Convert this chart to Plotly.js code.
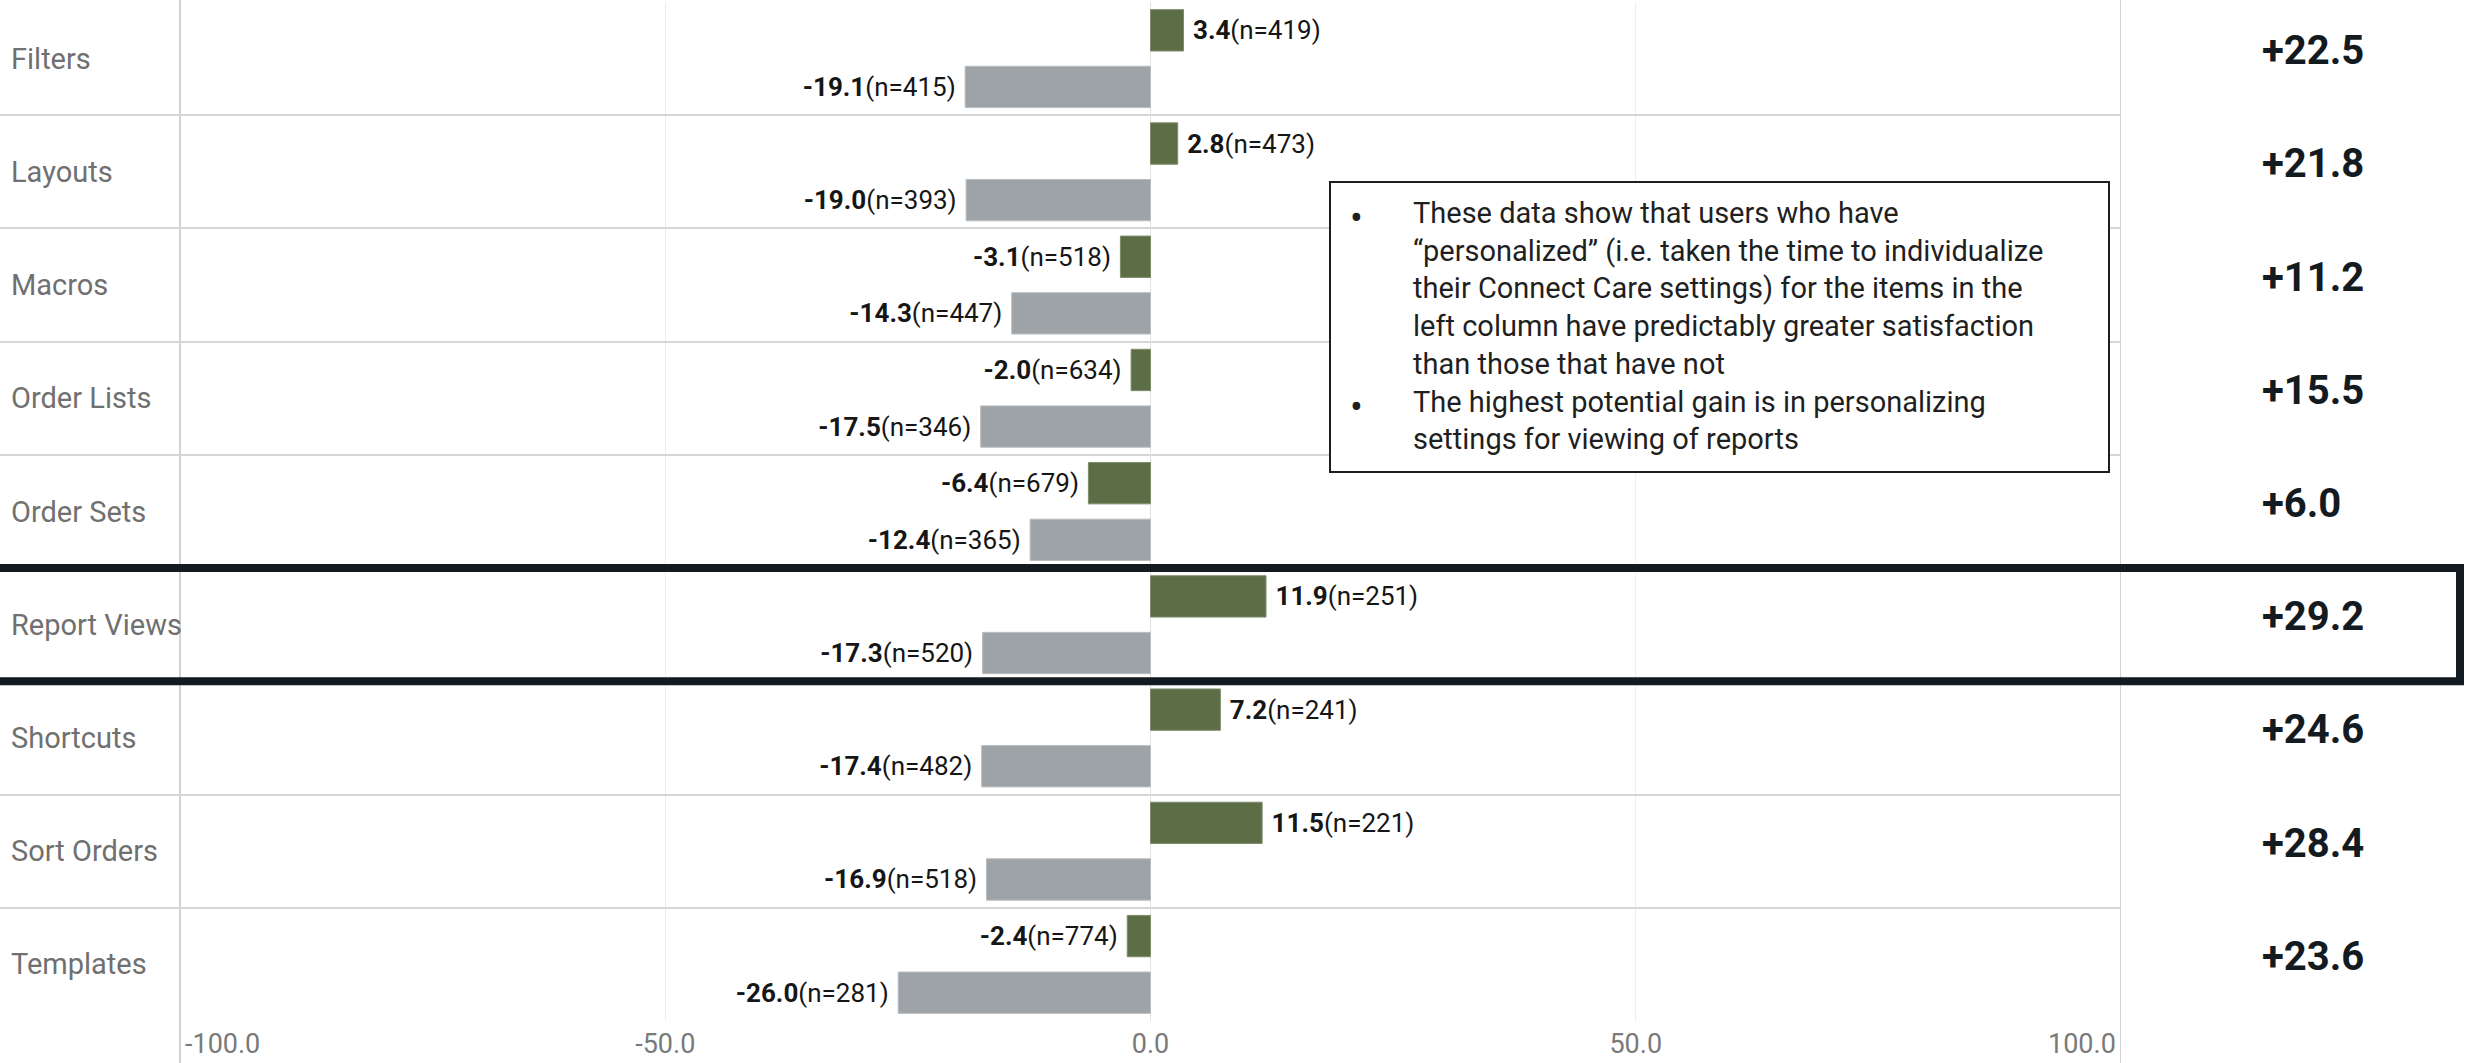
<!DOCTYPE html>
<html><head><meta charset="utf-8">
<script src="https://cdn.plot.ly/plotly-3.0.1.min.js"></script>
<style>html,body{margin:0;padding:0;background:#fff;overflow:hidden}#chart{width:2466px;height:1063px}</style>
</head><body><div id="chart"></div>
<script>
// ---- data ----
const categories = ['Filters','Layouts','Macros','Order Lists','Order Sets','Report Views','Shortcuts','Sort Orders','Templates'];
const personalized = [3.4, 2.8, -3.1, -2.0, -6.4, 11.9, 7.2, 11.5, -2.4];
const personalizedN = [419, 473, 518, 634, 679, 251, 241, 221, 774];
const notPersonalized = [-19.1, -19.0, -14.3, -17.5, -12.4, -17.3, -17.4, -16.9, -26.0];
const notPersonalizedN = [415, 393, 447, 346, 365, 520, 482, 518, 281];
const gainLabels = ['+22.5','+21.8','+11.2','+15.5','+6.0','+29.2','+24.6','+28.4','+23.6'];
const xTickVals = [-100, -50, 0, 50, 100];
const highlighted = 'Report Views';
const noteLines = [
  'These data show that users who have',
  '\u201Cpersonalized\u201D (i.e. taken the time to individualize',
  'their Connect Care settings) for the items in the',
  'left column have predictably greater satisfaction',
  'than those that have not',
  'The highest potential gain is in personalizing',
  'settings for viewing of reports'
];
const noteBullets = [true, false, false, false, false, true, false];

// ---- layout geometry ----
const W = 2466, H = 1063;
const margin = {l: 0, r: 345, t: 2, b: 42};
const plotW = W - margin.l - margin.r;
const plotH = H - margin.t - margin.b;
const px2x = px => (px - margin.l) / plotW;
const px2y = py => 1 - (py - margin.t) / plotH;

const FONT = 'Roboto, "Open Sans", sans-serif';
const GREEN = '#5c6e45', GRAY = '#9ea3a8', DARK = '#131b21';

function lab(v, n) {
  const s = '<b>' + v.toFixed(1) + '</b>(n=' + n + ')';
  return v >= 0 ? '\u00A0' + s : s + '\u00A0';
}

const common = {
  type: 'bar', orientation: 'h', y: categories,
  textposition: 'outside', cliponaxis: false, constraintext: 'none',
  textfont: {family: FONT, size: 26, color: '#161616'},
  hoverinfo: 'skip'
};
const traces = [
  Object.assign({}, common, {
    name: 'Personalized', x: personalized,
    text: personalized.map((v, i) => lab(v, personalizedN[i])),
    marker: {color: GREEN, line: {color: '#7d8c6a', width: 1}}
  }),
  Object.assign({}, common, {
    name: 'Not personalized', x: notPersonalized,
    text: notPersonalized.map((v, i) => lab(v, notPersonalizedN[i])),
    marker: {color: GRAY, line: {color: '#b9bdc1', width: 1}}
  })
];

const annotations = [];
// row labels (left aligned)
categories.forEach(c => annotations.push({
  xref: 'paper', yref: 'y', x: px2x(9), y: c, xanchor: 'left', yanchor: 'middle',
  text: c, showarrow: false, font: {family: FONT, size: 29, color: '#707070'}
}));
// gain column
categories.forEach((c, i) => annotations.push({
  xref: 'paper', yref: 'y', x: px2x(2260), y: c, xanchor: 'left', yanchor: 'middle', yshift: 8,
  text: '<b>' + gainLabels[i] + '</b>', showarrow: false, font: {family: FONT, size: 40, color: DARK}
}));
// end tick labels kept inside the frame
const TICKY = 1044;
annotations.push({
  xref: 'x', yref: 'paper', x: xTickVals[0], y: px2y(TICKY), xanchor: 'left', yanchor: 'middle', xshift: 3,
  text: xTickVals[0].toFixed(1), showarrow: false, font: {family: FONT, size: 27, color: '#7a7a7a'}
});
annotations.push({
  xref: 'x', yref: 'paper', x: xTickVals[xTickVals.length - 1], y: px2y(TICKY), xanchor: 'right', yanchor: 'middle', xshift: -3,
  text: xTickVals[xTickVals.length - 1].toFixed(1), showarrow: false, font: {family: FONT, size: 27, color: '#7a7a7a'}
});
// note box text
annotations.push({
  xref: 'paper', yref: 'paper', x: px2x(1411), y: px2y(194), xanchor: 'left', yanchor: 'top', align: 'left',
  text: noteLines.join('<br>'), showarrow: false, font: {family: FONT, size: 29, color: '#1f1f1f'}
});
annotations.push({
  xref: 'paper', yref: 'paper', x: px2x(1348), y: px2y(194), xanchor: 'left', yanchor: 'top', align: 'left',
  text: noteBullets.map(b => b ? '<span style="font-size:38px">\u2022</span>' : '\u00A0').join('<br>'), showarrow: false,
  font: {family: FONT, size: 29, color: '#1f1f1f'}
});

const hi = categories.indexOf(highlighted);
const shapes = [
  // frame lines at the axis ends
  {type: 'line', layer: 'between', xref: 'x', yref: 'paper', x0: xTickVals[0], x1: xTickVals[0], y0: px2y(H), y1: px2y(0),
   line: {color: '#d2d2d2', width: 2}},
  {type: 'line', layer: 'between', xref: 'x', yref: 'paper', x0: xTickVals[4], x1: xTickVals[4], y0: px2y(H), y1: px2y(0),
   line: {color: '#d2d2d2', width: 2}},
  // highlight box
  {type: 'rect', layer: 'above', xref: 'paper', yref: 'y', x0: px2x(-20), x1: px2x(2460), y0: hi - 0.5, y1: hi + 0.5,
   line: {color: DARK, width: 8}, fillcolor: 'rgba(0,0,0,0)'},
  // note box
  {type: 'rect', layer: 'above', xref: 'paper', yref: 'paper', x0: px2x(1330), x1: px2x(2109), y0: px2y(472), y1: px2y(182),
   line: {color: '#1a1f24', width: 2}, fillcolor: '#ffffff'}
];

const layout = {
  width: W, height: H, margin: margin,
  paper_bgcolor: '#ffffff', plot_bgcolor: '#ffffff',
  showlegend: false, barmode: 'group', bargap: 0, bargroupgap: 0.27,
  font: {family: FONT},
  xaxis: {
    range: [-118.55, 100], fixedrange: true,
    tickvals: xTickVals.slice(1, -1), ticktext: xTickVals.slice(1, -1).map(v => v.toFixed(1)),
    tickfont: {family: FONT, size: 27, color: '#7a7a7a'}, ticks: '', ticklabelstandoff: 4,
    showgrid: true, gridcolor: '#efefef', gridwidth: 1,
    zeroline: true, zerolinecolor: '#e2e2e2', zerolinewidth: 1, showline: false
  },
  yaxis: {
    type: 'category', categoryorder: 'array', categoryarray: categories, autorange: 'reversed',
    tickson: 'boundaries', showgrid: true, gridcolor: '#d6d6d6', gridwidth: 2,
    showticklabels: false, ticks: '', zeroline: false, showline: false, fixedrange: true
  },
  annotations: annotations, shapes: shapes
};

Plotly.newPlot('chart', traces, layout, {displayModeBar: false, staticPlot: true});
</script></body></html>
